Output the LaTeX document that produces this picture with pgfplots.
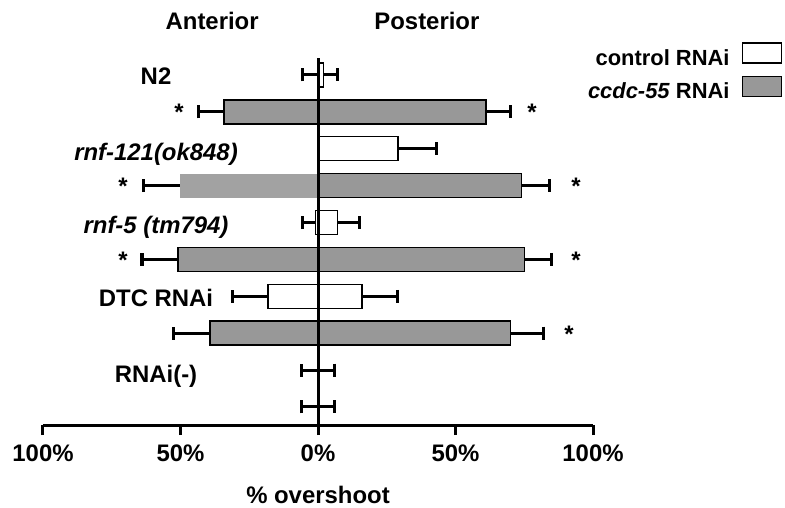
\documentclass[border=0pt]{standalone}
\usepackage{fontspec}
\setmainfont{Liberation Sans}
\usepackage{pgfplots}
\pgfplotsset{compat=1.18}
\definecolor{barg}{RGB}{152,152,152}

\begin{document}
\begin{tikzpicture}
\begin{axis}[
  scale only axis, width=550bp, height=367bp,
  xmin=-100, xmax=100, ymin=-0.46, ymax=9.49, y dir=reverse,
  axis x line*=bottom, axis y line=none,
  axis line style={line width=3bp},
  xtick={-100,-50,0,50,100},
  xticklabels={100\%,50\%,0\%,50\%,100\%},
  tick align=outside, major tick length=10bp,
  x tick style={line width=3bp,black},
  ticklabel style={font=\bfseries\fontsize{24}{28}\selectfont},
  xticklabel style={yshift=-6bp},
  xlabel={\% overshoot},
  label style={font=\bfseries\fontsize{24}{28}\selectfont},
  xlabel style={yshift=-18bp},
  clip=false,
  mybar/.style={xbar, bar width=24bp, bar shift=0pt, line width=1.5bp, draw=black,
    error bars/x explicit,
    error bars/error bar style={line width=3bp},
    error bars/error mark options={line width=3bp, mark size=6.5bp, rotate=90}},
  legend style={at={(axis cs:170,-0.95)}, anchor=north east, draw=none, fill=none,
    font=\bfseries\fontsize{22}{26}\selectfont, row sep=7bp},
  legend plot pos=right, legend cell align=right,
  legend image code/.code={\path[draw=none,fill=none] (0bp,0bp);
    \draw[#1,line width=1.5bp] (11bp,-5bp) rectangle (50bp,15bp);},
]
\addlegendimage{fill=white,draw=black}
\addlegendentry{control RNAi}
\addlegendimage{fill=barg,draw=black}
\addlegendentry{\textit{ccdc-55} RNAi}

% control RNAi, posterior / anterior
\addplot[mybar, fill=white, error bars/x dir=plus, forget plot] coordinates {
  (2,0) +- (5,0) (29,2) +- (14,0) (7,4) +- (8,0) (16,6) +- (13,0) (0,8) +- (6,0)};
\addplot[mybar, fill=white, error bars/x dir=minus, forget plot] coordinates {
  (0,0) +- (5.5,0) (-1,4) +- (4.8,0) (-18.2,6) +- (12.8,0) (0,8) +- (6,0)};
% ccdc-55 RNAi, posterior / anterior
\addplot[mybar, fill=barg, error bars/x dir=plus, forget plot] coordinates {
  (61,1) +- (9,0) (74,3) +- (10,0) (75,5) +- (10,0) (70,7) +- (12,0) (0,9) +- (6,0)};
\addplot[mybar, fill=barg, error bars/x dir=minus, forget plot] coordinates {
  (-34.2,1) +- (9.1,0) (-51,5) +- (13,0) (-39.3,7) +- (13.1,0) (0,9) +- (6,0)};
\addplot[mybar, fill=barg!90!white, draw=none, error bars/x dir=minus, forget plot] coordinates {
  (-50.2,3) +- (13.1,0)};

% centre line
\addplot[line width=3bp, black, forget plot] coordinates {(0,-0.46) (0,9.49)};

\node[font=\bfseries\fontsize{24}{28}\selectfont] at (axis cs:-38.5,-1.46) {Anterior};
\node[font=\bfseries\fontsize{24}{28}\selectfont] at (axis cs:39.6,-1.46) {Posterior};

\tikzset{lab/.style={font=\bfseries\fontsize{24}{28}\selectfont, anchor=base, yshift=-8.5bp},
         star/.style={font=\bfseries\fontsize{24}{28}\selectfont, anchor=base, yshift=-9bp}}
\node[lab] at (axis cs:-58.9,0.04) {N2};
\node[lab] at (axis cs:-58.9,2.1) {\itshape rnf-121(ok848)};
\node[lab] at (axis cs:-58.9,4.07) {\itshape rnf-5 (tm794)};
\node[lab] at (axis cs:-58.9,6.04) {DTC RNAi};
\node[lab] at (axis cs:-58.9,8.1) {RNAi(-)};

\node[star] at (axis cs:-50.5,1) {*};
\node[star] at (axis cs:-70.9,3) {*};
\node[star] at (axis cs:-70.9,5) {*};
\node[star] at (axis cs:77.8,1) {*};
\node[star] at (axis cs:93.8,3) {*};
\node[star] at (axis cs:93.8,5) {*};
\node[star] at (axis cs:91.3,7) {*};

\coordinate (ll) at (axis cs:-100,9.49);
\end{axis}
\pgfresetboundingbox
\path ([shift={(-43bp,-83bp)}]ll) rectangle ++(785bp,508bp);
\end{tikzpicture}
\end{document}
